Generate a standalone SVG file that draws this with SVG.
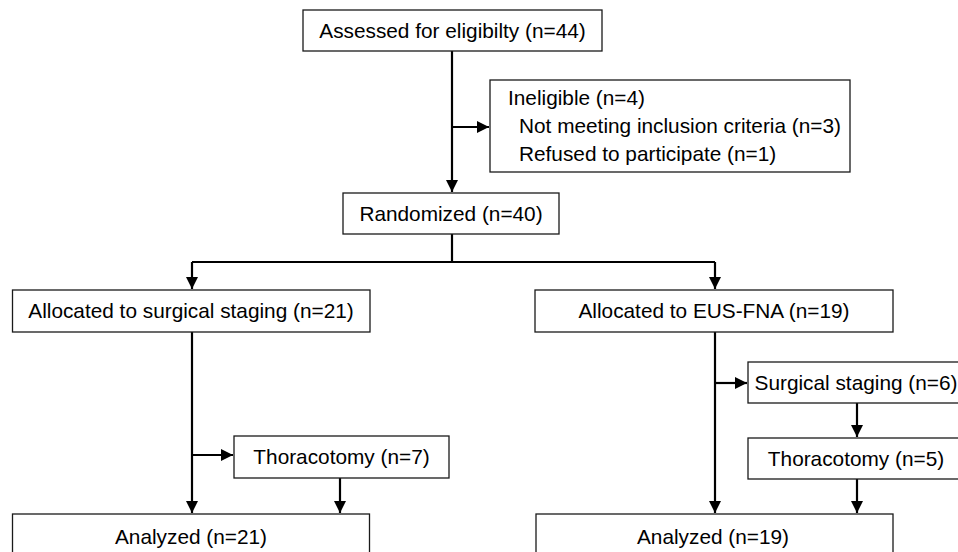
<svg xmlns="http://www.w3.org/2000/svg" width="958" height="552" viewBox="0 0 958 552">
<style>
.box{fill:#fff;stroke:#1a1a1a;stroke-width:1.3}
.t{font-family:"Liberation Sans",Arial,sans-serif;font-size:20.8px;fill:#000}
.c{text-anchor:middle}
.ln{fill:none;stroke:#000;stroke-width:2.2}
</style>
<defs>
<marker id="ah" markerUnits="userSpaceOnUse" markerWidth="13" markerHeight="12" refX="12" refY="6" orient="auto">
<path d="M0,0 L12,6 L0,12 z" fill="#000"/>
</marker>
</defs>
<rect width="958" height="552" fill="#fff"/>
<g id="connectors">
<path class="ln" d="M452,51 V192" marker-end="url(#ah)"/>
<path class="ln" d="M452,127 H489" marker-end="url(#ah)"/>
<path class="ln" d="M452,234 V262"/>
<path class="ln" d="M192,262 H715"/>
<path class="ln" d="M192,262 V289" marker-end="url(#ah)"/>
<path class="ln" d="M715,262 V289" marker-end="url(#ah)"/>
<path class="ln" d="M192,332 V513" marker-end="url(#ah)"/>
<path class="ln" d="M192,455 H233" marker-end="url(#ah)"/>
<path class="ln" d="M340,478 V513" marker-end="url(#ah)"/>
<path class="ln" d="M715,332 V513" marker-end="url(#ah)"/>
<path class="ln" d="M715,383 H747" marker-end="url(#ah)"/>
<path class="ln" d="M857,403 V437" marker-end="url(#ah)"/>
<path class="ln" d="M857,479 V513" marker-end="url(#ah)"/>
</g>
<g id="assessed">
<rect class="box" x="303" y="10" width="299" height="41"/>
<text class="t c" x="452.5" y="38">Assessed for eligibilty (n=44)</text>
</g>
<g id="ineligible">
<rect class="box" x="490" y="80" width="360" height="92"/>
<text class="t" x="508" y="105">Ineligible (n=4)</text>
<text class="t" x="519" y="133">Not meeting inclusion criteria (n=3)</text>
<text class="t" x="519" y="161">Refused to participate (n=1)</text>
</g>
<g id="randomized">
<rect class="box" x="343" y="193" width="216" height="41"/>
<text class="t c" x="451" y="220.5">Randomized (n=40)</text>
</g>
<g id="alloc-surgical">
<rect class="box" x="12.5" y="290" width="357.5" height="42"/>
<text class="t c" x="191" y="318">Allocated to surgical staging (n=21)</text>
</g>
<g id="alloc-eus">
<rect class="box" x="535" y="290" width="358" height="42"/>
<text class="t c" x="714" y="318">Allocated to EUS-FNA (n=19)</text>
</g>
<g id="thoracotomy-left">
<rect class="box" x="234" y="436" width="215" height="42"/>
<text class="t c" x="341.5" y="463.5">Thoracotomy (n=7)</text>
</g>
<g id="surgical-staging-right">
<rect class="box" x="748" y="362" width="215" height="41"/>
<text class="t c" x="856" y="389.5">Surgical staging (n=6)</text>
</g>
<g id="thoracotomy-right">
<rect class="box" x="748" y="438" width="215" height="41"/>
<text class="t c" x="856" y="465.5">Thoracotomy (n=5)</text>
</g>
<g id="analyzed-left">
<rect class="box" x="12.5" y="514" width="357" height="60"/>
<text class="t c" x="191" y="544">Analyzed (n=21)</text>
</g>
<g id="analyzed-right">
<rect class="box" x="536" y="514" width="357" height="60"/>
<text class="t c" x="713" y="544">Analyzed (n=19)</text>
</g>
</svg>
